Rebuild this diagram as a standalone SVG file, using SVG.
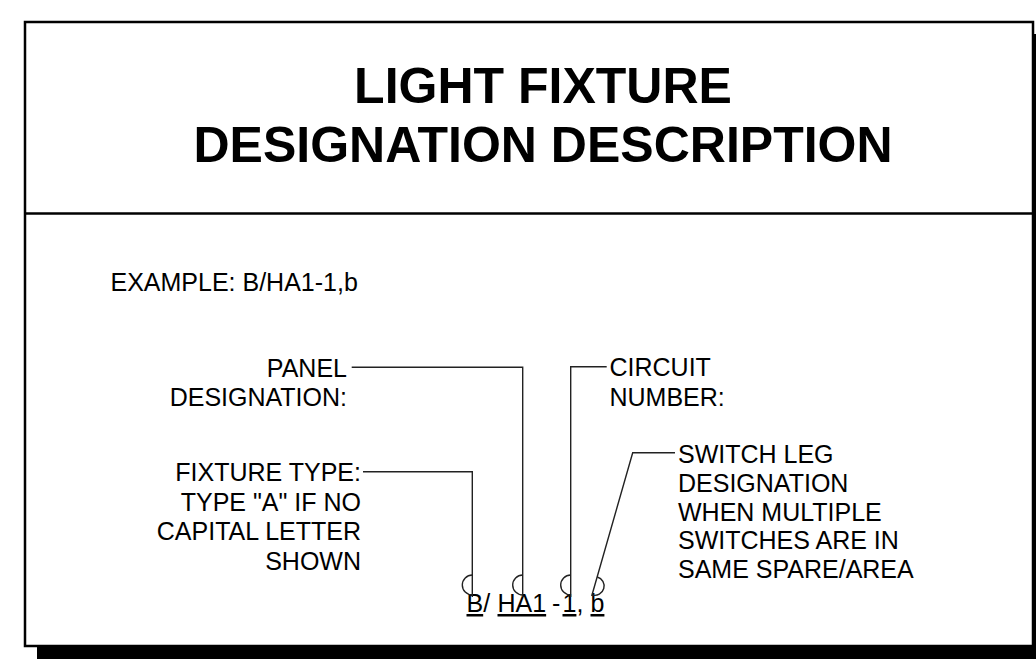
<svg xmlns="http://www.w3.org/2000/svg" width="1036" height="671" viewBox="0 0 1036 671">
<style>
.t{font-family:"Liberation Sans",Arial,sans-serif;font-size:25px;fill:#000}
.title{font-family:"Liberation Sans",Arial,sans-serif;font-size:50px;font-weight:bold;fill:#000}
.lead{fill:none;stroke:#222;stroke-width:1.4}
.u{text-decoration:underline}
</style>
<rect width="1036" height="671" fill="#fff"/>
<g id="frame">
<rect x="37" y="647" width="1000" height="12" fill="#000"/>
<rect x="1034" y="34" width="4" height="625" fill="#000"/>
<rect x="25" y="22" width="1008" height="624" fill="#fff" stroke="#000" stroke-width="2.5"/>
<line x1="25" y1="213.5" x2="1033" y2="213.5" stroke="#000" stroke-width="2.5"/>
</g>
<g id="title">
<text class="title" x="543" y="103" text-anchor="middle">LIGHT FIXTURE</text>
<text class="title" x="543" y="162" text-anchor="middle">DESIGNATION DESCRIPTION</text>
</g>
<g id="example"><text class="t" x="110.5" y="290.5">EXAMPLE: B/HA1-1,b</text></g>
<g id="panel">
<text class="t" x="347" y="376.5" text-anchor="end">PANEL</text>
<text class="t" x="347" y="406" text-anchor="end">DESIGNATION:</text>
</g>
<g id="circuit">
<text class="t" x="609.5" y="376">CIRCUIT</text>
<text class="t" x="609.5" y="405.5">NUMBER:</text>
</g>
<g id="switch">
<text class="t" x="678" y="463.3">SWITCH LEG</text>
<text class="t" x="678" y="492">DESIGNATION</text>
<text class="t" x="678" y="520.5">WHEN MULTIPLE</text>
<text class="t" x="678" y="549">SWITCHES ARE IN</text>
<text class="t" x="678" y="577.5">SAME SPARE/AREA</text>
</g>
<g id="fixture">
<text class="t" x="361" y="481" text-anchor="end">FIXTURE TYPE:</text>
<text class="t" x="361" y="510.5" text-anchor="end">TYPE "A" IF NO</text>
<text class="t" x="361" y="540" text-anchor="end">CAPITAL LETTER</text>
<text class="t" x="361" y="569.5" text-anchor="end">SHOWN</text>
</g>
<g id="designation">
<text class="t" y="612"><tspan class="u" x="466.5">B</tspan><tspan>/</tspan><tspan class="u" x="497.5">HA1</tspan><tspan x="552">-</tspan><tspan class="u" x="562.5">1</tspan><tspan>,</tspan><tspan class="u" x="590.5">b</tspan></text>
</g>
<g id="connectors">
<path class="lead" d="M351.7,367.3 H522.7 V597"/>
<path class="lead" d="M606.7,366.7 H570.7 V597"/>
<path class="lead" d="M675,452.7 H632.7 L591.7,596"/>
<path class="lead" d="M363,471.7 H472.3 V597"/>
<path class="lead" d="M472.3,575 A10 10 0 0 0 472.3,595"/>
<path class="lead" d="M522.7,575 A10 10 0 0 0 522.7,595"/>
<path class="lead" d="M570.7,575 A10 10 0 0 0 570.7,595"/>
<path class="lead" d="M597.3,577 A9.35 9.35 0 0 1 592.2,595"/>
</g>
</svg>
